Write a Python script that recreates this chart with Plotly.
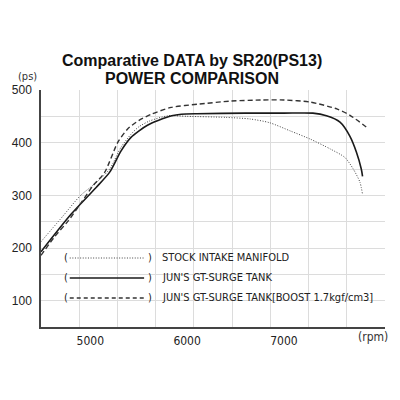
import plotly.graph_objects as go

# ---- data ----
rpm_stock = [4490, 4700, 4900, 5060, 5200, 5316, 5420, 5500, 5610, 5800, 6000, 6400, 6650, 6850, 7070, 7270, 7480, 7630, 7717, 7786, 7813]
ps_stock = [212, 257, 300, 324, 350, 391, 416, 430, 441, 451, 450, 448, 445, 438, 422, 407, 388, 372, 350, 325, 302]

rpm_jun = [4490, 4800, 5060, 5200, 5316, 5420, 5500, 5590, 5700, 5840, 5940, 6100, 6600, 7000, 7300, 7440, 7580, 7680, 7750, 7800, 7813]
ps_jun = [193, 264, 315, 344, 384, 410, 422, 433, 442, 451, 454, 455, 456, 456, 456, 451, 439, 413, 382, 350, 336]

rpm_boost = [4490, 4633, 4769, 4906, 5026, 5146, 5282, 5385, 5500, 5630, 5836, 6110, 6452, 6760, 7000, 7273, 7547, 7683, 7871]
ps_boost = [186, 222, 251, 286, 318, 343, 400, 426, 442, 454, 467, 473, 479, 481, 481, 477, 464, 452, 427]

series_names = ["STOCK INTAKE MANIFOLD", "JUN'S GT-SURGE TANK", "JUN'S GT-SURGE TANK[BOOST 1.7kgf/cm3]"]
x_tickvals = [5000, 6000, 7000]
y_tickvals = [50, 100, 150, 200, 250, 300, 350, 400, 450, 500]
y_ticktext = ["", "100", "", "200", "", "300", "", "400", "", "500"]

# ---- layout helpers ----
L, R, T, B = 38, 15, 90, 73
W = H = 400
PW, PH = W - L - R, H - T - B
XR = [4490, 8045]

def pxx(x):
    return (x - L) / PW

def pxy(y):
    return (H - B - y) / PH

COND = "DejaVu Sans Condensed, Liberation Sans"

fig = go.Figure()
styles = [
    dict(color="#444", width=1.0, dash="1px,1.6px"),
    dict(color="#1a1a1a", width=1.6, dash="solid"),
    dict(color="#333", width=1.4, dash="5px,3px"),
]
data = [(rpm_stock, ps_stock), (rpm_jun, ps_jun), (rpm_boost, ps_boost)]
for (xs, ys), st, nm in zip(data, styles, series_names):
    fig.add_trace(go.Scatter(x=xs, y=ys, mode="lines", name=nm,
                             line=dict(shape="spline", smoothing=0.7, **st),
                             showlegend=False))
# invisible helper trace so the label axis is drawn
fig.add_trace(go.Scatter(x=XR, y=[None, None], xaxis="x2", mode="lines",
                         showlegend=False, hoverinfo="skip"))

grid = "#dcdcdc"
fig.update_layout(
    width=W, height=H,
    margin=dict(l=L, r=R, t=T, b=B),
    paper_bgcolor="white", plot_bgcolor="white",
    xaxis=dict(range=XR, tickmode="linear", tick0=4490, dtick=395, showgrid=True,
               gridcolor=grid, zeroline=False, showticklabels=False,
               showline=True, linecolor="#444", linewidth=1.5, ticks=""),
    xaxis2=dict(range=XR, overlaying="x", side="bottom", tickvals=x_tickvals,
                showgrid=False, zeroline=False, showline=False, ticks="",
                ticklabelstandoff=5,
                tickfont=dict(family=COND, size=12, color="#222")),
    yaxis=dict(range=[50, 500], tickvals=y_tickvals, ticktext=y_ticktext,
               showgrid=True, gridcolor=grid, zeroline=False,
               showline=True, linecolor="#444", linewidth=1.5, ticks="",
               ticklabelstandoff=5,
               tickfont=dict(family="Liberation Sans", size=12, color="#222")),
)

ann = []
# title
ann.append(dict(text="<b>Comparative DATA by SR20(PS13)</b>", x=pxx(190), y=pxy(60),
                font=dict(family="Liberation Sans", size=16, color="#111")))
ann.append(dict(text="<b>POWER COMPARISON</b>", x=pxx(190), y=pxy(79),
                font=dict(family="Liberation Sans", size=16, color="#111")))
# units
ann.append(dict(text="(ps)", x=pxx(24), y=pxy(76),
                font=dict(family=COND, size=11, color="#333")))
ann.append(dict(text="(rpm)", x=pxx(373), y=pxy(337),
                font=dict(family=COND, size=12, color="#333")))

# legend
rows = [257, 277, 297]
lfont = dict(family=COND, size=11, color="#222")
shapes = []
for nm, st, ry in zip(series_names, styles, rows):
    ann.append(dict(text=nm, x=pxx(158), y=pxy(ry), xanchor="left", font=lfont))
    ann.append(dict(text="(", x=pxx(63), y=pxy(ry), font=lfont))
    ann.append(dict(text=")", x=pxx(148), y=pxy(ry), font=lfont))
    shapes.append(dict(type="line", xref="paper", yref="paper",
                       x0=pxx(67), x1=pxx(142), y0=pxy(ry + 1), y1=pxy(ry + 1),
                       line=dict(color=st["color"], width=st["width"],
                                 dash="4px,3px" if st["dash"].startswith("5") else st["dash"])))

for a in ann:
    a.setdefault("xanchor", "center")
    a.update(xref="paper", yref="paper", yanchor="middle", showarrow=False)

fig.update_layout(annotations=ann, shapes=shapes)
fig.write_html("out.html")
